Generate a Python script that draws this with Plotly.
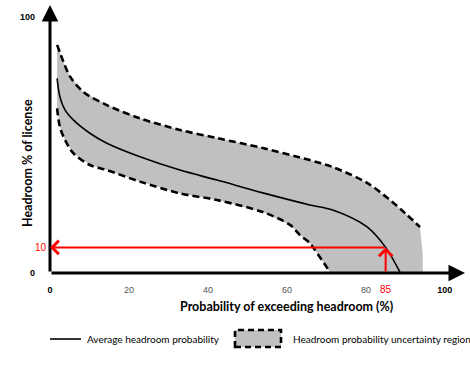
import plotly.graph_objects as go

# ---------------- data ----------------
upper_x = [1.8, 3.4, 5.1, 8.4, 14.4, 22.8, 32.9, 42.3, 53.9, 65.8, 71.6, 80.3, 86.1, 89.9, 93.7]
upper_y = [89.1, 82.5, 76.7, 70.8, 65.6, 60.4, 55.9, 52.7, 48.8, 44.1, 41.4, 35.2, 28.5, 23.4, 18.0]

avg_x = [1.8, 2.5, 3.8, 5.9, 10.1, 14.4, 22.8, 32.9, 42.3, 53.9, 65.8, 71.6, 80.3, 85.0, 88.6]
avg_y = [76.0, 68.9, 63.7, 59.8, 54.6, 50.7, 45.4, 40.2, 36.3, 31.3, 26.6, 24.6, 18.0, 10.0, 0.4]

lower_x = [1.8, 2.5, 3.8, 5.9, 10.1, 14.4, 22.8, 32.9, 42.3, 53.9, 60.8, 63.3, 65.8, 67.1, 70.9]
lower_y = [64.3, 57.1, 52.0, 46.8, 42.2, 40.2, 35.7, 31.1, 28.5, 23.8, 18.8, 14.8, 11.7, 9.0, 0.4]

band_right_x = 94.4     # the grey band drops straight to the axis here

marker_prob = 85        # red arrow: probability
marker_headroom = 10    # red arrow: headroom

x_tickvals = [0, 20, 40, 60, 80, 100]
x_ticktext = ["<span style='color:black'><b>0</b></span>", "20", "40", "60", "80",
              "<span style='color:black'><b>100</b></span>"]
y_tickvals = [0, 100]
y_ticktext = ["0", "100"]

# ---------------- layout constants ----------------
W, H = 470, 387
ML, MR, MT, MB = 50, 5, 5, 114
XMAX, YMAX = 105.1, 104.7
PW, PH = W - ML - MR, H - MT - MB


def px(xp):   # pixel -> paper x
    return (xp - ML) / PW


def py(yp):   # pixel -> paper y
    return (H - MB - yp) / PH


GREY = "#c0c0c0"
fig = go.Figure()

# grey uncertainty band
band_x = upper_x + [band_right_x, band_right_x, lower_x[-1]] + lower_x[::-1]
band_y = upper_y + [upper_y[-1] * 0.4, 0, 0] + lower_y[::-1]
fig.add_trace(go.Scatter(x=band_x, y=band_y, fill="toself", fillcolor=GREY,
                         mode="lines", line=dict(width=0, color=GREY),
                         hoverinfo="skip", showlegend=False))

dash = dict(color="black", width=2.6, dash="7px,4px", shape="spline", smoothing=0.9)
fig.add_trace(go.Scatter(x=upper_x, y=upper_y, mode="lines", line=dash, showlegend=False))
fig.add_trace(go.Scatter(x=lower_x, y=lower_y, mode="lines", line=dash, showlegend=False))
fig.add_trace(go.Scatter(x=avg_x, y=avg_y, mode="lines",
                         line=dict(color="black", width=1.6, shape="spline", smoothing=0.9),
                         showlegend=False))

ann = []
# axis arrows
ann.append(dict(x=XMAX, y=0, ax=0, ay=0, xref="x", yref="y", axref="x", ayref="y",
                text="", showarrow=True, arrowhead=2, arrowsize=1.1, arrowwidth=3,
                arrowcolor="black", standoff=0))
ann.append(dict(x=0, y=YMAX, ax=0, ay=0, xref="x", yref="y", axref="x", ayref="y",
                text="", showarrow=True, arrowhead=2, arrowsize=1.1, arrowwidth=3,
                arrowcolor="black", standoff=0))
# red arrows
ann.append(dict(x=0, y=marker_headroom, ax=marker_prob, ay=marker_headroom,
                xref="x", yref="y", axref="x", ayref="y", text="", showarrow=True,
                arrowhead=4, arrowsize=1.3, arrowwidth=2, arrowcolor="red", standoff=0))
ann.append(dict(x=marker_prob, y=marker_headroom, ax=marker_prob, ay=0,
                xref="x", yref="y", axref="x", ayref="y", text="", showarrow=True,
                arrowhead=4, arrowsize=1.3, arrowwidth=2, arrowcolor="red", standoff=0))
ann.append(dict(x=0, y=marker_headroom, xref="x", yref="y", text=str(marker_headroom),
                showarrow=False, xanchor="right", yanchor="middle", xshift=-1,
                font=dict(family="Liberation Sans", size=10, color="red")))
ann.append(dict(x=marker_prob, y=0, xref="x", yref="y", text=str(marker_prob),
                showarrow=False, xanchor="center", yanchor="middle", yshift=-16,
                font=dict(family="Liberation Sans", size=10, color="red")))
# axis titles
ann.append(dict(x=px(286), y=py(306), xref="paper", yref="paper",
                xanchor="center", yanchor="middle",
                text="<b>Probability of exceeding headroom (%)</b>", showarrow=False,
                font=dict(family="Lato", size=12.5, color="black")))
ann.append(dict(x=px(27), y=py(163), xref="paper", yref="paper",
                xanchor="center", yanchor="middle",
                text="<b>Headroom % of license</b>", showarrow=False, textangle=-90,
                font=dict(family="Lato", size=12.5, color="black")))
# legend texts
ann.append(dict(x=px(85), y=py(339), xref="paper", yref="paper", xanchor="left",
                yanchor="middle",
                text="Average headroom probability", showarrow=False,
                font=dict(family="Lato", size=10, color="black")))
ann.append(dict(x=px(291), y=py(339), xref="paper", yref="paper", xanchor="left",
                yanchor="middle",
                text="Headroom probability uncertainty region", showarrow=False,
                font=dict(family="Lato", size=10, color="black")))

shapes = [
    dict(type="line", xref="paper", yref="paper", x0=px(50), x1=px(81), y0=py(339), y1=py(339),
         line=dict(color="black", width=1.6)),
    dict(type="rect", xref="paper", yref="paper", x0=px(235), x1=px(281), y0=py(347), y1=py(330),
         fillcolor=GREY, line=dict(color="black", width=2.6, dash="6px,4px")),
]

fig.update_layout(
    template="none",
    width=W, height=H, margin=dict(l=ML, r=MR, t=MT, b=MB, autoexpand=False),
    paper_bgcolor="white", plot_bgcolor="white", showlegend=False,
    annotations=ann, shapes=shapes,
    xaxis=dict(range=[0, XMAX], showgrid=False, zeroline=False, showline=False,
               automargin=False,
               tickmode="array", tickvals=x_tickvals, ticktext=x_ticktext, ticks="",
               ticklabelstandoff=10,
               tickfont=dict(family="Liberation Sans", size=9, color="#555555")),
    yaxis=dict(range=[0, YMAX], showgrid=False, zeroline=False, showline=False,
               automargin=False,
               tickmode="array", tickvals=y_tickvals, ticktext=y_ticktext, ticks="",
               ticklabelstandoff=14,
               tickfont=dict(family="Liberation Sans", size=9, color="black", weight="bold")),
    xaxis2=dict(range=[0, XMAX], overlaying="x", anchor="y", showgrid=False, zeroline=False,
                automargin=False,
                tickmode="array", tickvals=[0, 100], ticks="outside", ticklen=7,
                tickwidth=2, tickcolor="black", showticklabels=False, side="bottom"),
    yaxis2=dict(range=[0, YMAX], overlaying="y", anchor="x", showgrid=False, zeroline=False,
                automargin=False,
                tickmode="array", tickvals=[0, 100], ticks="outside", ticklen=7,
                tickwidth=2, tickcolor="black", showticklabels=False, side="left"),
)

fig.write_html("out.html", config={"displayModeBar": False},
               post_script="document.body.style.margin='0';document.body.style.padding='0';")
